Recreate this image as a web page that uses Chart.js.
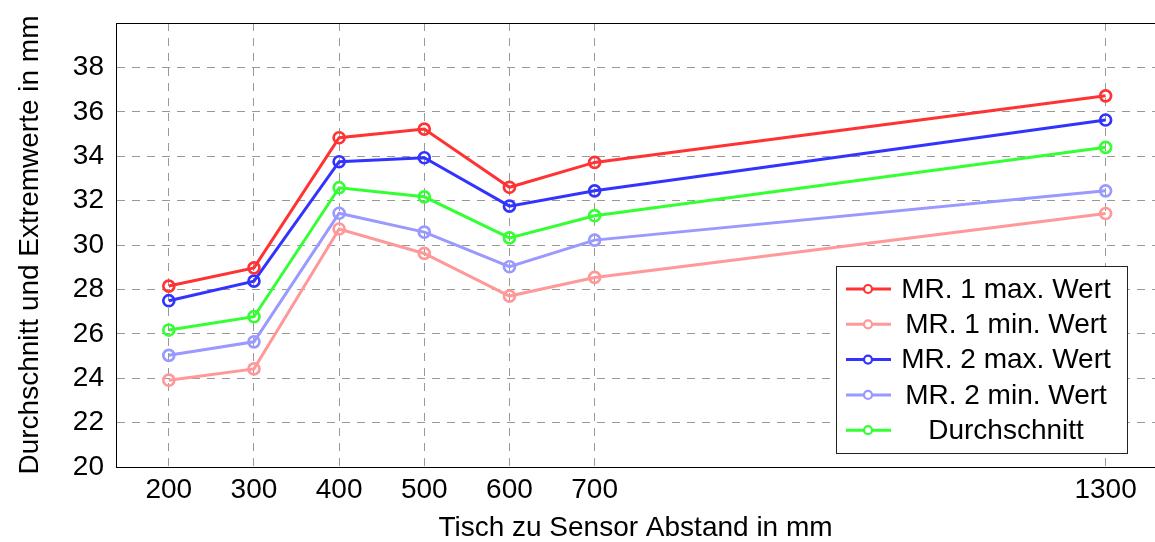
<!DOCTYPE html>
<html>
<head>
<meta charset="utf-8">
<script src="https://cdn.jsdelivr.net/npm/chart.js@4"></script>
<style>
  html, body { margin: 0; padding: 0; background: #fff; }
  #wrap { width: 1155px; height: 542px; position: relative; }
</style>
</head>
<body>
<div id="wrap"><canvas id="abstandChart"></canvas></div>
<script>
const abstand = [200, 300, 400, 500, 600, 700, 1300];
const mr1Max = [28.15, 28.97, 34.83, 35.22, 32.60, 33.72, 36.72];
const mr1Min = [23.91, 24.42, 30.72, 29.62, 27.70, 28.54, 31.42];
const mr2Max = [27.49, 28.37, 33.75, 33.93, 31.75, 32.44, 35.63];
const mr2Min = [25.03, 25.64, 31.43, 30.58, 29.02, 30.22, 32.44];
const mittel = [26.17, 26.77, 32.58, 32.17, 30.32, 31.32, 34.40];

const FONT = "'Liberation Sans', Arial, sans-serif";

function serie(label, values, color) {
  return {
    label: label,
    data: abstand.map((x, i) => ({ x: x, y: values[i] })),
    borderColor: color,
    backgroundColor: "#fff",
    borderWidth: 3,
    pointRadius: 5.5,
    pointBorderWidth: 2.7,
    pointBackgroundColor: "rgba(255,255,255,0)",
    pointBorderColor: color,
    tension: 0,
  };
}

// box around the plot area and the legend in the lower right corner
const rahmen = {
  id: "rahmen",
  afterDraw(chart) {
    const ctx = chart.ctx;
    const a = chart.chartArea;
    ctx.save();
    ctx.strokeStyle = "#000";
    ctx.lineWidth = 1;
    ctx.strokeRect(a.left + 0.5, a.top + 0.5, a.right - a.left + 2, a.bottom - a.top);

    const bx = 836, by = 266, bw = 291, bh = 187;
    ctx.fillStyle = "#fff";
    ctx.fillRect(bx, by, bw, bh);
    ctx.strokeStyle = "#222";
    ctx.strokeRect(bx + 0.5, by + 0.5, bw, bh);
    ctx.font = "28px " + FONT;
    ctx.textAlign = "center";
    ctx.textBaseline = "middle";
    chart.data.datasets.forEach((ds, i) => {
      const y = 289 + i * 35.3;
      ctx.strokeStyle = ds.borderColor;
      ctx.lineWidth = 3;
      ctx.beginPath();
      ctx.moveTo(846, y);
      ctx.lineTo(891, y);
      ctx.stroke();
      ctx.lineWidth = 2.2;
      ctx.fillStyle = "#fff";
      ctx.beginPath();
      ctx.arc(868, y, 4, 0, Math.PI * 2);
      ctx.fill();
      ctx.stroke();
      ctx.fillStyle = "#000";
      ctx.fillText(ds.label, 1006, y + 1);
    });
    ctx.restore();
  },
};

new Chart(document.getElementById("abstandChart"), {
  type: "line",
  data: {
    datasets: [
      serie("MR. 1 max. Wert", mr1Max, "#ff3333"),
      serie("MR. 1 min. Wert", mr1Min, "#ff9999"),
      serie("MR. 2 max. Wert", mr2Max, "#3333ff"),
      serie("MR. 2 min. Wert", mr2Min, "#9999ff"),
      serie("Durchschnitt", mittel, "#33ff33"),
    ],
  },
  options: {
    responsive: true,
    maintainAspectRatio: false,
    animation: false,
    layout: { autoPadding: false, padding: { top: 23, right: 0, left: 0, bottom: 0 } },
    plugins: {
      legend: { display: false },
      tooltip: { enabled: false },
    },
    scales: {
      x: {
        type: "linear",
        min: 138,
        max: 1358,
        afterBuildTicks(scale) {
          scale.ticks = abstand.map((v) => ({ value: v }));
        },
        afterFit(scale) {
          scale.height = 75;
          scale.paddingLeft = 0;
          scale.paddingRight = 0;
        },
        ticks: {
          color: "#000",
          font: { family: FONT, size: 28 },
          padding: 6,
          maxRotation: 0,
          autoSkip: false,
          callback: (v) => String(v),
        },
        grid: {
          color: "#999",
          lineWidth: 1,
          drawTicks: false,
        },
        border: { display: true, color: "#000", width: 1, dash: [8, 7] },
        title: {
          display: true,
          text: "Tisch zu Sensor Abstand in mm",
          color: "#000",
          font: { family: FONT, size: 28, lineHeight: 1 },
          padding: 0,
        },
      },
      y: {
        min: 20,
        max: 40,
        afterFit(scale) {
          scale.width = 116;
          scale.paddingTop = 0;
          scale.paddingBottom = 0;
        },
        ticks: {
          stepSize: 2,
          color: "#000",
          font: { family: FONT, size: 28 },
          padding: 12,
          callback: (v) => (v === 40 ? "" : String(v)),
        },
        grid: {
          color: "#999",
          lineWidth: 1,
          drawTicks: false,
        },
        border: { display: true, color: "#000", width: 1, dash: [8, 7] },
        title: {
          display: true,
          text: "Durchschnitt und Extremwerte in mm",
          color: "#000",
          font: { family: FONT, size: 28 },
          padding: { top: 13 },
        },
      },
    },
  },
  plugins: [rahmen],
});
</script>
</body>
</html>
